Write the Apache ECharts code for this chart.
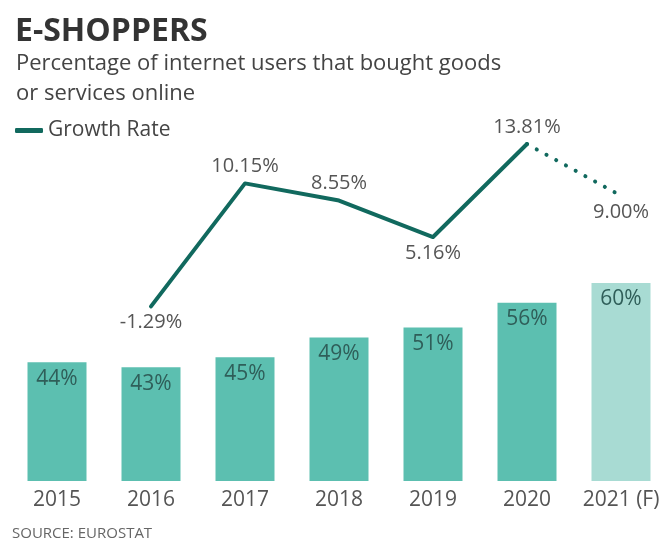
<!DOCTYPE html>
<html>
<head>
<meta charset="utf-8">
<script src="https://cdn.jsdelivr.net/npm/echarts@6/dist/echarts.min.js"></script>
<style>
  html, body { margin: 0; padding: 0; background: #fff; }
  #chart { width: 668px; height: 542px; }
</style>
</head>
<body>
<div id="chart"></div>
<script>
// Years shown on the axis
const years = ['2015', '2016', '2017', '2018', '2019', '2020', '2021 (F)'];
// Share of internet users who bought online (%)
const shoppers = [44, 43, 45, 49, 51, 56, 60];
// Year-on-year growth rate (%); 2021 is a forecast
const growthActual = [null, -1.29, 10.15, 8.55, 5.16, 13.81, null];
const growthForecast = [null, null, null, null, null, 13.81, 9.00];
// Where each growth label sits relative to its point
const growthLabelPos = ['top', 'bottom', 'top', 'top', 'bottom', 'top', 'bottom'];

const FONT = '"Open Sans", "Noto Sans", sans-serif';
const BAR = '#5cbfb0';
const BAR_FORECAST = '#a8dbd3';
const LINE = '#11695e';

const chart = echarts.init(document.getElementById('chart'), null, { renderer: 'canvas' });

const barData = shoppers.map((v, i) => ({
  value: v,
  itemStyle: { color: i === shoppers.length - 1 ? BAR_FORECAST : BAR }
}));

const labelDist = { top: 7, bottom: 6 };
const actualData = growthActual.map((v, i) => v === null ? null : ({
  value: v,
  label: { show: true, position: growthLabelPos[i], distance: labelDist[growthLabelPos[i]] }
}));
const forecastData = growthForecast.map((v, i) => v === null ? null : ({
  value: v,
  label: { show: i === growthForecast.length - 1, position: growthLabelPos[i], distance: labelDist[growthLabelPos[i]] }
}));

const pct = p => p.value.toFixed(2) + '%';

chart.setOption({
  backgroundColor: '#fff',
  animation: false,
  textStyle: { fontFamily: FONT },
  title: [
    {
      text: 'E-SHOPPERS',
      left: 10, top: 11,
      textStyle: { fontFamily: FONT, fontSize: 32, fontWeight: 'bold', color: '#333' }
    },
    {
      text: 'Percentage of internet users that bought goods\nor services online',
      left: 11, top: 44,
      textStyle: { fontFamily: FONT, fontSize: 22, fontWeight: 'normal', color: '#444', lineHeight: 30 }
    }
  ],
  legend: {
    data: ['Growth Rate'],
    left: 10, top: 115,
    icon: 'roundRect',
    itemWidth: 28, itemHeight: 5,
    itemGap: 6,
    textStyle: { fontFamily: FONT, fontSize: 21, color: '#444' }
  },
  graphic: [{
    type: 'text',
    left: 12, top: 526,
    style: { text: 'SOURCE: EUROSTAT', fontFamily: FONT, fontSize: 15, fill: '#666' }
  }],
  grid: [
    { left: 10, width: 662, top: 283, bottom: 61 },
    { left: 10, width: 662, top: 142, bottom: 228 }
  ],
  xAxis: [
    {
      type: 'category', gridIndex: 0, data: years,
      axisLine: { show: false }, axisTick: { show: false },
      axisLabel: { interval: 0, hideOverlap: false, fontFamily: FONT, fontSize: 21, color: '#555', margin: 9 }
    },
    { type: 'category', gridIndex: 1, data: years, show: false }
  ],
  yAxis: [
    { type: 'value', gridIndex: 0, min: 20, max: 60, show: false },
    { type: 'value', gridIndex: 1, min: -2, max: 14, show: false }
  ],
  series: [
    {
      name: 'Share', type: 'bar', xAxisIndex: 0, yAxisIndex: 0,
      data: barData, barWidth: 59,
      label: {
        show: true, position: 'insideTop', distance: 6,
        fontFamily: FONT, fontSize: 21, color: '#2f5e59',
        formatter: p => p.value + '%'
      }
    },
    {
      name: 'Growth Rate', type: 'line', xAxisIndex: 1, yAxisIndex: 1,
      data: actualData, showSymbol: true, symbol: 'circle', symbolSize: 0.1,
      color: LINE,
      itemStyle: { color: LINE },
      lineStyle: { color: LINE, width: 4, cap: 'round', join: 'round' },
      label: { show: true, fontFamily: FONT, fontSize: 20, color: '#555', formatter: pct }
    },
    {
      name: 'Forecast', type: 'line', xAxisIndex: 1, yAxisIndex: 1,
      data: forecastData, showSymbol: true, symbol: 'circle', symbolSize: 0.1,
      itemStyle: { color: LINE },
      lineStyle: { color: LINE, width: 4, type: [0.1, 11], cap: 'round' },
      label: { fontFamily: FONT, fontSize: 20, color: '#555', formatter: pct }
    }
  ]
});
</script>
</body>
</html>
